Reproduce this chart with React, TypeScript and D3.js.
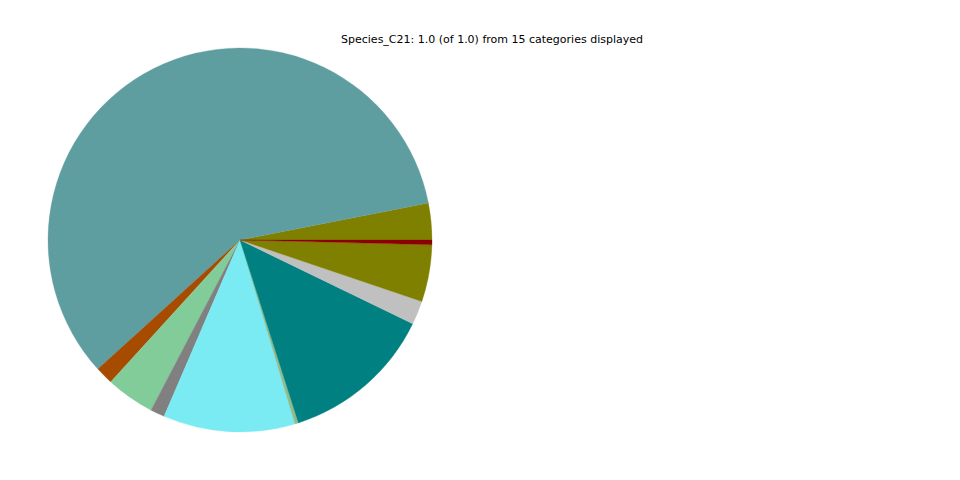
import React from "react";
import * as d3 from "d3";

const title = "Species_C21: 1.0 (of 1.0) from 15 categories displayed";
const categories = ["C1","C2","C3","C4","C5","C6","C7","C8","C9","C10","C11","C12","C13","C14","C15"];
const values = [0.031, 0.587, 0.015, 0.041, 0.012, 0.111, 0.003, 0.129, 0.0, 0.020, 0.048, 0.0, 0.004, 0.0, 0.0];
const colors = ["#808000","#5f9ea0","#a64b00","#82cc9a","#808080","#7aebf2","#8fbc8f","#008080","#ffffff","#c0c0c0","#808000","#ffffff","#8b0000","#ffffff","#ffffff"];

export default function App() {
  const width = 960, height = 480;
  const cx = 240, cy = 240, r = 192;
  const data = categories.map((c, i) => ({ c, v: values[i], color: colors[i] }));
  const pie = d3.pie<any>().sort(null).value((d: any) => d.v)
    .startAngle(Math.PI / 2).endAngle(Math.PI / 2 - 2 * Math.PI);
  const arcs = pie(data);
  const arc = d3.arc<any>().innerRadius(0).outerRadius(r);
  return (
    <svg width={width} height={height} style={{ position: "absolute", left: 0, top: 0 }}>
      <rect width={width} height={height} fill="#ffffff" />
      <g transform={`translate(${cx},${cy})`}>
        {arcs.filter(a => a.data.v > 0).map((a, i) => (
          <path key={i} d={arc(a) as string} fill={a.data.color} stroke={a.data.color} strokeWidth={0.3} />
        ))}
      </g>
      <text x={492} y={43} textAnchor="middle" fontFamily="DejaVu Sans" fontSize={11} fill="#000">{title}</text>
    </svg>
  );
}
